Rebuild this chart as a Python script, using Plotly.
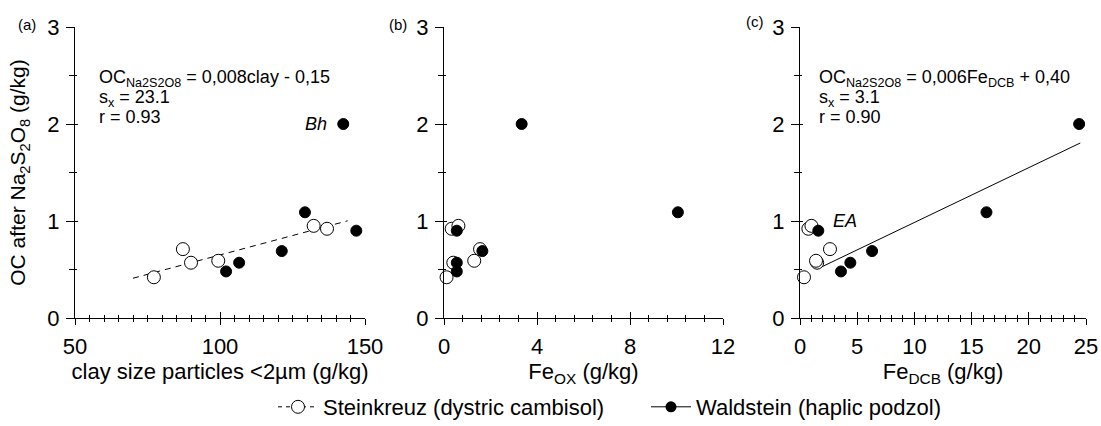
import numpy as np
import plotly.graph_objects as go

# ---------------- data ----------------
steink_y = [0.42, 0.57, 0.59, 0.71, 0.92, 0.95]
steink_clay = [77.2, 90.0, 99.4, 87.2, 136.9, 132.3]
steink_feox = [0.11, 0.40, 1.30, 1.55, 0.33, 0.62]
steink_fedcb = [0.35, 1.50, 1.40, 2.62, 0.73, 1.00]

wald_y = [0.48, 0.57, 0.69, 1.09, 0.90, 2.00]
wald_clay = [102.1, 106.6, 121.3, 129.3, 147.0, 142.5]
wald_feox = [0.55, 0.55, 1.65, 10.06, 0.55, 3.34]
wald_fedcb = [3.58, 4.40, 6.30, 16.3, 1.60, 24.4]

# regression lines as drawn
fit_a_slope, fit_a_intercept, fit_a_range = 0.008, -0.15, [70, 144]
fit_c_slope, fit_c_intercept, fit_c_range = 0.0565, 0.42, [1.5, 24.5]

x_titles = ["clay size particles <2\u00b5m (g/kg)", "Fe<sub>OX</sub> (g/kg)", "Fe<sub>DCB</sub> (g/kg)"]
y_title = "OC after Na<sub>2</sub>S<sub>2</sub>O<sub>8</sub> (g/kg)"
panel_labels = ["(a)", "(b)", "(c)"]
legend_names = ["Steinkreuz (dystric cambisol)", "Waldstein (haplic podzol)"]
eq_a = ["OC<sub>Na2S2O8</sub> = 0,008clay - 0,15", "s<sub>x</sub> = 23.1", "r = 0.93"]
eq_c = ["OC<sub>Na2S2O8</sub> = 0,006Fe<sub>DCB</sub> + 0,40", "s<sub>x</sub> = 3.1", "r = 0.90"]

x_ranges = [[50, 150], [0, 12], [0, 25]]
x_dticks = [50, 4, 5]
x_minor = [5, 0.8, 1]

# ---------------- layout geometry ----------------
W, H = 1101, 426
FONT = "Arial, Liberation Sans, sans-serif"
x_dom_px = [(75, 365), (444, 723), (800, 1086)]
y_dom_px = (27, 318)
ydom = [1 - y_dom_px[1] / H, 1 - y_dom_px[0] / H]

fig = go.Figure()

xs_open = [steink_clay, steink_feox, steink_fedcb]
xs_fill = [wald_clay, wald_feox, wald_fedcb]

for i in range(3):
    xa = "x" if i == 0 else f"x{i+1}"
    ya = "y" if i == 0 else f"y{i+1}"
    # dummy traces so the inside-tick overlay axes get drawn
    fig.add_trace(go.Scatter(x=[None], y=[None], xaxis=f"x{i+4}", yaxis=ya,
                             showlegend=False, hoverinfo="skip"))
    fig.add_trace(go.Scatter(x=[None], y=[None], xaxis=xa, yaxis=f"y{i+4}",
                             showlegend=False, hoverinfo="skip"))
    if i == 0:
        xl = np.array(fit_a_range, dtype=float)
        fig.add_trace(go.Scatter(x=xl, y=fit_a_slope * xl + fit_a_intercept, mode="lines",
                                 line=dict(color="black", width=1, dash="6px,5px"),
                                 xaxis=xa, yaxis=ya, showlegend=False, hoverinfo="skip"))
    if i == 2:
        xl = np.array(fit_c_range, dtype=float)
        fig.add_trace(go.Scatter(x=xl, y=fit_c_slope * xl + fit_c_intercept, mode="lines",
                                 line=dict(color="black", width=1),
                                 xaxis=xa, yaxis=ya, showlegend=False, hoverinfo="skip"))
    fig.add_trace(go.Scatter(x=xs_open[i], y=steink_y, mode="markers",
                             marker=dict(symbol="circle", size=13, color="white",
                                         line=dict(color="black", width=1)),
                             xaxis=xa, yaxis=ya, showlegend=False, cliponaxis=False))
    fig.add_trace(go.Scatter(x=xs_fill[i], y=wald_y, mode="markers",
                             marker=dict(symbol="circle", size=11, color="black",
                                         line=dict(color="black", width=1)),
                             xaxis=xa, yaxis=ya, showlegend=False, cliponaxis=False))

# legend entries
fig.add_trace(go.Scatter(x=[None], y=[None], mode="lines+markers", name=legend_names[0],
                         line=dict(color="black", width=1, dash="4px,4px"),
                         marker=dict(symbol="circle", size=13, color="white",
                                     line=dict(color="black", width=1))))
fig.add_trace(go.Scatter(x=[None], y=[None], mode="lines+markers", name=legend_names[1],
                         line=dict(color="black", width=1),
                         marker=dict(symbol="circle", size=11, color="black")))

layout = dict(
    width=W, height=H, margin=dict(l=0, r=0, t=0, b=0, autoexpand=False),
    paper_bgcolor="white", plot_bgcolor="white",
    font=dict(family=FONT, color="black", size=19),
    showlegend=True,
    legend=dict(orientation="h", x=273 / W, xanchor="left", y=1 - 407 / H, yanchor="middle",
                font=dict(size=22, family=FONT), bgcolor="rgba(0,0,0,0)", itemwidth=40,
                entrywidth=318, entrywidthmode="pixels"),
)

for i in range(3):
    sfx = "" if i == 0 else str(i + 1)
    xd = [x_dom_px[i][0] / W, x_dom_px[i][1] / W]
    layout["xaxis" + sfx] = dict(
        domain=xd, range=x_ranges[i], anchor="y" + sfx, dtick=x_dticks[i], tick0=0,
        automargin=False, ticklabeloverflow="allow",
        showline=True, linecolor="black", linewidth=1, showgrid=False, zeroline=False,
        ticks="outside", ticklen=6, tickwidth=1, tickcolor="black",
        minor=dict(dtick=x_minor[i], ticks="outside", ticklen=3, tickcolor="black", showgrid=False),
        tickfont=dict(size=22, family=FONT), ticklabelstandoff=3,
        title=dict(text=x_titles[i], font=dict(size=22, family=FONT), standoff=0),
    )
    layout["yaxis" + sfx] = dict(
        domain=ydom, range=[0, 3], anchor="x" + sfx, dtick=1, tick0=0,
        automargin=False, ticklabeloverflow="allow",
        showline=True, linecolor="black", linewidth=1, showgrid=False, zeroline=False,
        ticks="outside", ticklen=8, tickwidth=1, tickcolor="black",
        minor=dict(dtick=0.5, ticks="outside", ticklen=5, tickcolor="black", showgrid=False),
        tickfont=dict(size=22, family=FONT), ticklabelstandoff=2,
        title=dict(text=y_title if i == 0 else "", font=dict(size=21, family=FONT), standoff=15),
    )
    # overlay axes carrying the inside half of the crossing ticks
    layout[f"xaxis{i+4}"] = dict(
        overlaying="x" + sfx, anchor="y" + sfx, range=x_ranges[i], dtick=x_dticks[i], tick0=0,
        automargin=False, showticklabels=False, showline=False, showgrid=False, zeroline=False,
        ticks="inside", ticklen=6, tickwidth=1, tickcolor="black",
        minor=dict(dtick=x_minor[i], ticks="inside", ticklen=3, tickcolor="black", showgrid=False),
    )
    layout[f"yaxis{i+4}"] = dict(
        overlaying="y" + sfx, anchor="x" + sfx, range=[0, 3], dtick=1, tick0=0,
        automargin=False, showticklabels=False, showline=False, showgrid=False, zeroline=False,
        ticks="inside", ticklen=3, tickwidth=1, tickcolor="black",
        minor=dict(dtick=0.5, ticks="inside", ticklen=2, tickcolor="black", showgrid=False),
    )

fig.update_layout(**layout)

ann = []
label_px = [(27, 24), (398, 24), (755, 22)]
for lab, (px, py) in zip(panel_labels, label_px):
    ann.append(dict(text=lab, x=px / W, y=1 - py / H, xref="paper", yref="paper",
                    showarrow=False, font=dict(size=15, family=FONT), xanchor="center", yanchor="middle"))
eq_y = [2.47, 2.26, 2.07]
for t, yy in zip(eq_a, eq_y):
    ann.append(dict(text=t, x=57.6, y=yy, xref="x", yref="y", showarrow=False,
                    font=dict(size=18, family=FONT), xanchor="left", yanchor="middle"))
for t, yy in zip(eq_c, eq_y):
    ann.append(dict(text=t, x=1.5, y=yy, xref="x3", yref="y3", showarrow=False,
                    font=dict(size=18, family=FONT), xanchor="left", yanchor="middle"))
ann.append(dict(text="<i>Bh</i>", x=137.6, y=2.0, xref="x", yref="y", showarrow=False,
                font=dict(size=18, family=FONT), xanchor="right", yanchor="middle"))
ann.append(dict(text="<i>EA</i>", x=3.9, y=1.0, xref="x3", yref="y3", showarrow=False,
                font=dict(size=18, family=FONT), xanchor="center", yanchor="middle"))
fig.update_layout(annotations=ann)

fig.write_html("out.html", config={"displayModeBar": False},
               post_script="document.body.style.margin='0';")
